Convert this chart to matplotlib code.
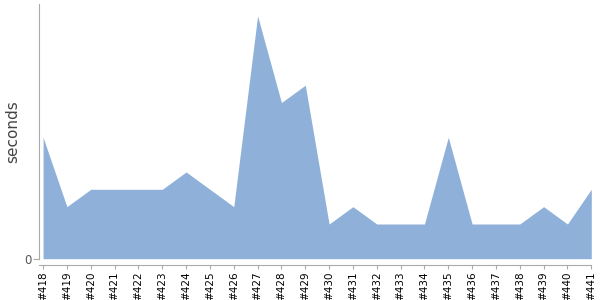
import matplotlib
matplotlib.use("Agg")
import matplotlib.pyplot as plt

builds = ["#418", "#419", "#420", "#421", "#422", "#423", "#424", "#425",
          "#426", "#427", "#428", "#429", "#430", "#431", "#432", "#433",
          "#434", "#435", "#436", "#437", "#438", "#439", "#440", "#441"]
seconds = [7, 3, 4, 4, 4, 4, 5, 4, 3, 14, 9, 10, 2, 3, 2, 2, 2, 7, 2, 2, 2, 3, 2, 4]

fig = plt.figure(figsize=(6, 3), dpi=100)
ax = fig.add_axes([39.5 / 600, 1 - 258.7 / 300, (591.3 - 39.5) / 600, (258.7 - 4) / 300])

x = list(range(len(builds)))
ax.fill_between(x, 0, seconds, color="#8fb1d9", linewidth=0)

ax.set_xlim(-0.15, len(builds) - 1)
ax.set_ylim(0, 14.68)

for s in ["top", "right"]:
    ax.spines[s].set_visible(False)
ax.spines["left"].set_color("#aaaaaa")
ax.spines["bottom"].set_color("#aaaaaa")
ax.spines["bottom"].set_position(("outward", 4.3))
ax.tick_params(axis="x", length=3, color="#aaaaaa", pad=2, labelrotation=90,
               labelsize=7.5, labelcolor="black")
ax.tick_params(axis="y", length=4, color="#aaaaaa", pad=2, labelsize=8.5,
               labelcolor="#555555")

ax.set_xticks(x)
ax.set_xticklabels(builds)
ax.set_yticks([0])
ax.set_yticklabels(["0"])
ax.set_ylabel("seconds", fontsize=11, color="#444444")
ax.yaxis.set_label_coords(-19.5 / 551.8, 0.5)

fig.savefig("out.png", dpi=100)
